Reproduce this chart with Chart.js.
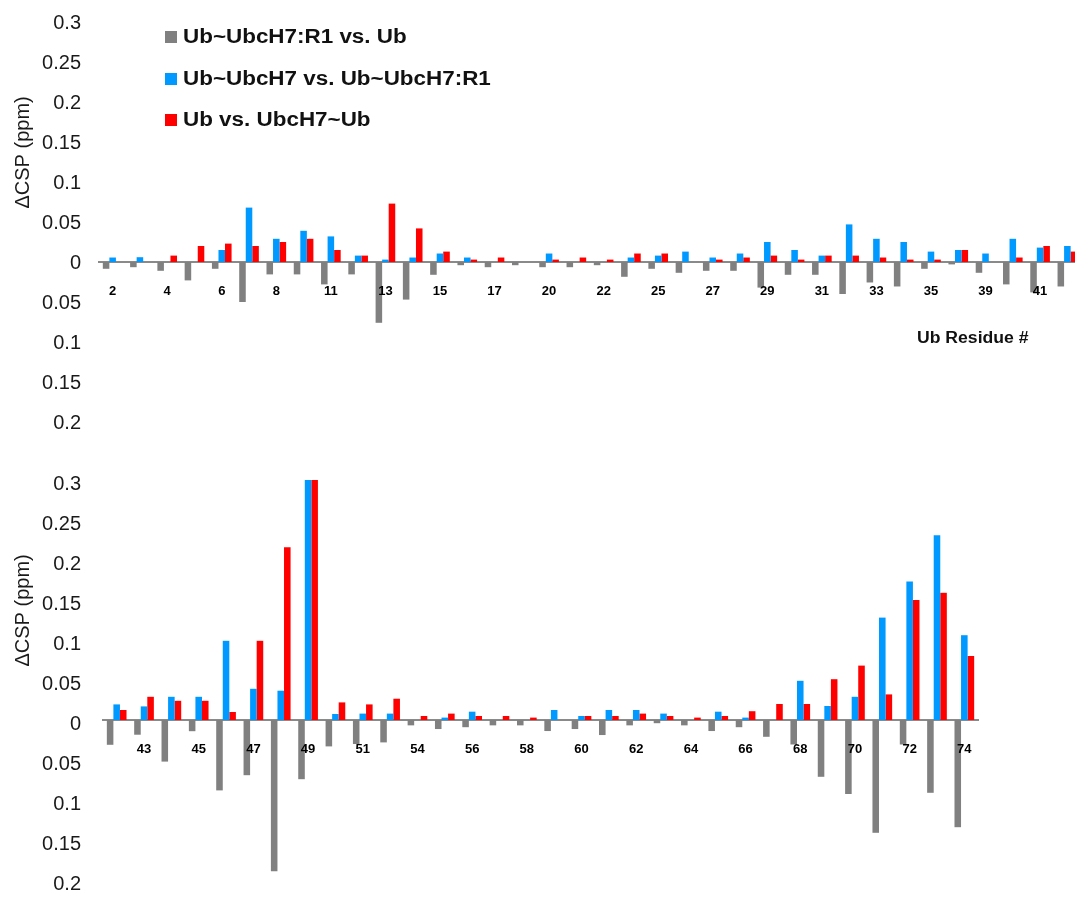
<!DOCTYPE html>
<html>
<head>
<meta charset="utf-8">
<script src="https://cdn.jsdelivr.net/npm/chart.js@4.4.0/dist/chart.umd.min.js"></script>
<style>
html,body{margin:0;padding:0;width:1075px;height:897px;overflow:hidden;background:#fff;}
#w1{position:absolute;left:0;top:-8px;width:1090px;height:460px;}
#w2{position:absolute;left:0;top:446px;width:1075px;height:468px;}
.mk{position:absolute;left:165px;width:12px;height:12px;}
.lt{position:absolute;left:183px;height:24px;line-height:24px;font:bold 19.5px "Liberation Sans",Arial,sans-serif;color:#111;white-space:nowrap;transform:scaleX(1.15);transform-origin:left center;}
#resid{position:absolute;left:917px;top:329px;height:22px;line-height:22px;font:bold 16px "Liberation Sans",Arial,sans-serif;color:#111;white-space:nowrap;transform:scaleX(1.1);transform-origin:left center;}
</style>
</head>
<body>
<div id="w1"><canvas id="c1" width="1090" height="460"></canvas></div>
<div id="w2"><canvas id="c2" width="1075" height="468"></canvas></div>
<div id="legend"></div>
<div id="resid">Ub Residue #</div>
<script>
// ---- Data ----
const seriesNames = ['Ub~UbcH7:R1 vs. Ub', 'Ub~UbcH7 vs. Ub~UbcH7:R1', 'Ub vs. UbcH7~Ub'];
const seriesColors = ['#808080', '#0099ff', '#ff0000'];

const topResidues = [2,3,4,5,6,7,8,9,11,12,13,14,15,16,17,18,20,21,22,23,25,26,27,28,29,30,31,32,33,34,35,36,39,40,41,42];
const topGray = [-0.0085,-0.0065,-0.011,-0.023,-0.0085,-0.05,-0.0155,-0.0155,-0.028,-0.0155,-0.076,-0.047,-0.016,-0.004,-0.0065,-0.004,-0.0065,-0.0065,-0.004,-0.0185,-0.0085,-0.0135,-0.011,-0.011,-0.032,-0.016,-0.016,-0.040,-0.0256,-0.0306,-0.0085,-0.003,-0.0135,-0.028,-0.038,-0.0306];
const topBlue = [0.0056,0.006,0,0,0.015,0.068,0.029,0.039,0.032,0.008,0.003,0.0056,0.0106,0.0056,0,0,0.0106,0,0,0.0056,0.008,0.013,0.0056,0.0106,0.025,0.015,0.008,0.047,0.029,0.025,0.013,0.015,0.0106,0.029,0.018,0.020];
const topRed = [0,0,0.008,0.020,0.023,0.020,0.025,0.029,0.015,0.008,0.073,0.042,0.013,0.003,0.0056,0,0.003,0.0056,0.003,0.0106,0.0106,0,0.003,0.0056,0.008,0.003,0.008,0.008,0.0056,0.003,0.003,0.015,0,0.0056,0.020,0.013];

const botResidues = [42,43,44,45,46,47,48,49,50,51,52,54,55,56,57,58,59,60,61,62,63,64,65,66,67,68,69,70,71,72,73,74];
const botGray = [-0.031,-0.0184,-0.052,-0.014,-0.088,-0.069,-0.189,-0.074,-0.033,-0.030,-0.028,-0.0067,-0.0113,-0.009,-0.0067,-0.0067,-0.0138,-0.0113,-0.0188,-0.0067,-0.004,-0.0067,-0.0138,-0.009,-0.021,-0.0306,-0.071,-0.0925,-0.141,-0.0306,-0.091,-0.134];
const botBlue = [0.0195,0.017,0.029,0.029,0.099,0.039,0.0366,0.30,0.0075,0.008,0.008,0,0.003,0.0104,0,0,0.0125,0.005,0.0125,0.0125,0.008,0,0.0104,0.003,0,0.049,0.0175,0.029,0.128,0.173,0.231,0.106];
const botRed = [0.0125,0.029,0.024,0.024,0.010,0.099,0.216,0.30,0.022,0.0195,0.0266,0.005,0.008,0.005,0.005,0.003,0,0.005,0.005,0.008,0.005,0.003,0.005,0.011,0.020,0.020,0.051,0.068,0.032,0.150,0.159,0.080];

const yTickMin = -0.2, yTickMax = 0.3, yTickStep = 0.05;
const yTitle = '\u0394CSP (ppm)';

// ---- Legend (HTML text) ----
const legendCenters = [37, 79, 120];
const legend = document.getElementById('legend');
seriesNames.forEach((n, i) => {
  const m = document.createElement('div');
  m.className = 'mk'; m.style.top = (legendCenters[i] - 6) + 'px'; m.style.background = seriesColors[i];
  legend.appendChild(m);
  const t = document.createElement('div');
  t.className = 'lt'; t.style.top = (legendCenters[i] - 12) + 'px'; t.textContent = n;
  legend.appendChild(t);
});

const yTitlePlugin = {
  id: 'yTitleDraw',
  afterDraw(chart, args, opts) {
    const {ctx} = chart; const y = chart.scales.y;
    ctx.save();
    ctx.translate(opts.x, y.getPixelForValue(opts.value));
    ctx.rotate(-Math.PI / 2);
    ctx.font = '20px "Liberation Sans", Arial, sans-serif';
    ctx.fillStyle = '#1a1a1a';
    ctx.textAlign = 'center'; ctx.textBaseline = 'middle';
    ctx.fillText(opts.text, 0, 0);
    ctx.restore();
  }
};

function makeChart(id, residues, gray, blue, red, cfg) {
  const data = [gray, blue, red];
  return new Chart(document.getElementById(id), {
    type: 'bar',
    data: {
      labels: residues.map(String),
      datasets: data.map((d, i) => ({
        label: seriesNames[i], data: d, backgroundColor: seriesColors[i], borderWidth: 0,
        categoryPercentage: 0.72, barPercentage: 1.0
      }))
    },
    plugins: [yTitlePlugin],
    options: {
      responsive: false, animation: false, events: [],
      layout: { padding: { left: 0, right: cfg.padRight, top: 0, bottom: 0 } },
      plugins: {
        legend: { display: false }, tooltip: { enabled: false },
        yTitleDraw: { text: yTitle, x: 23, value: 0.137 }
      },
      scales: {
        x: {
          position: { y: 0 }, offset: true,
          grid: { display: false, drawTicks: false },
          border: { display: true, color: '#8a8a8a', width: 2 },
          ticks: {
            z: 1,
            autoSkip: false, maxRotation: 0, padding: 22, color: '#000',
            font: { family: '"Liberation Sans", Arial, sans-serif', size: 13, weight: 'bold' },
            callback: (v, i) => (i % 2 === cfg.labelParity ? residues[i] : '')
          }
        },
        y: {
          min: yTickMin, max: yTickMax,
          afterFit: s => { s.width = cfg.yWidth; },
          grid: { display: false, drawTicks: false },
          border: { display: false },
          ticks: {
            stepSize: yTickStep, padding: cfg.tickPad, labelOffset: cfg.labelOffset, color: '#1a1a1a',
            font: { family: '"Liberation Sans", Arial, sans-serif', size: 20 },
            callback: v => { const a = Math.abs(v); return a < 1e-9 ? '0' : String(parseFloat(a.toFixed(2))); }
          }
        }
      }
    }
  });
}

makeChart('c1', topResidues, topGray, topBlue, topRed, { padRight: 9, yWidth: 99, tickPad: 18, labelOffset: 1, labelParity: 0 });
makeChart('c2', botResidues, botGray, botBlue, botRed, { padRight: 97, yWidth: 103, tickPad: 22, labelOffset: 4, labelParity: 1 });
</script>
</body>
</html>
